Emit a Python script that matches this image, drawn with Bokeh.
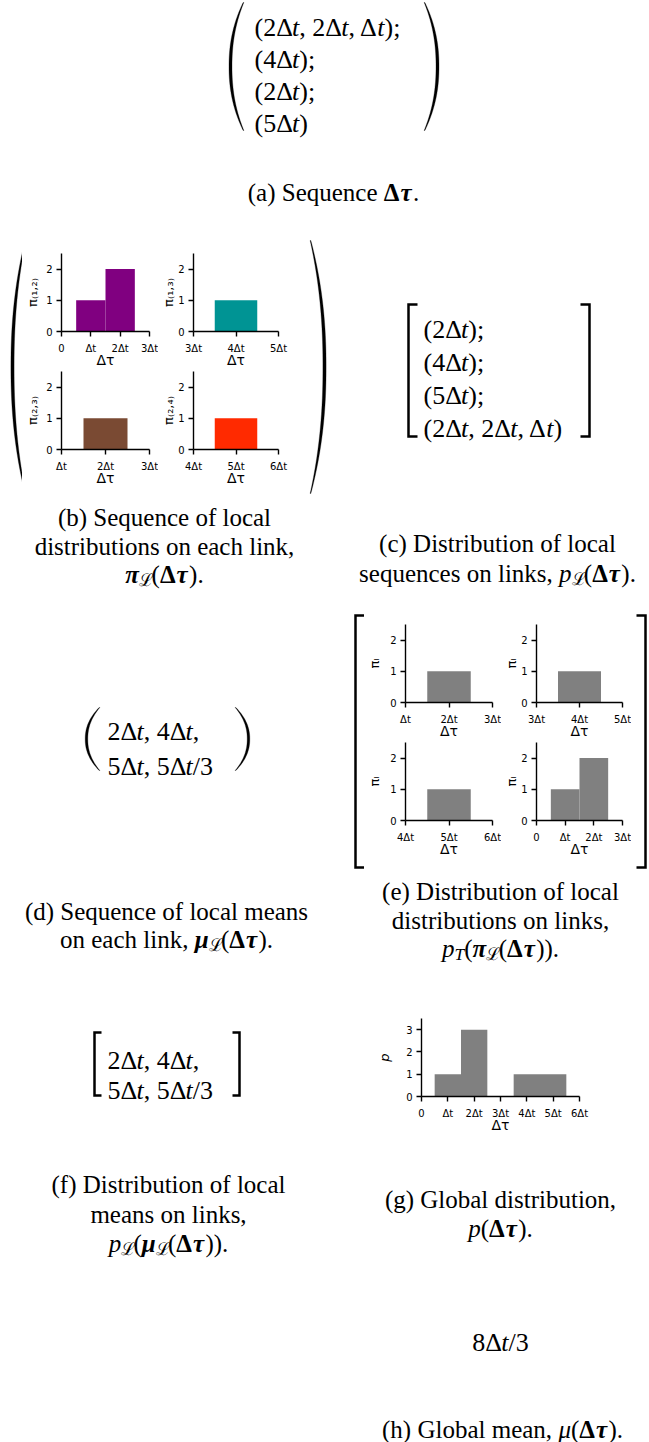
import numpy as np
from bokeh.plotting import figure
from bokeh.layouts import row, column
from bokeh.models import Range1d, FixedTicker, ColumnDataSource
from bokeh.core.properties import value, field
from bokeh.embed import file_html
from bokeh.resources import INLINE

# ---------------- data ----------------
a_rows = ["(2Δt, 2Δt, Δt);", "(4Δt);", "(2Δt);", "(5Δt)"]
c_rows = ["(2Δt);", "(4Δt);", "(5Δt);", "(2Δt, 2Δt, Δt)"]
d_rows = ["2Δt, 4Δt,", "5Δt, 5Δt/3"]
f_rows = ["2Δt, 4Δt,", "5Δt, 5Δt/3"]
h_value = "8Δt/3"

tick_pos = [0, 1, 2, 3, 4, 5, 6]
tick_text = ["0", "Δt", "2Δt", "3Δt", "4Δt", "5Δt", "6Δt"]
x_label = "Δτ"

# (b) local distribution on each link
b_ylabels = ["π₍₁,₂₎", "π₍₁,₃₎", "π₍₂,₃₎", "π₍₂,₄₎"]
b_bins = [[1, 2], [4], [2], [5]]
b_counts = [[1, 2], [1], [1], [1]]
b_xlim = [(0, 3), (3, 5), (1, 3), (4, 6)]
b_colors = ["#800080", "#009494", "#7a4a33", "#ff2a00"]
b_yticks = [0, 1, 2]
b_ymax = 2.5

# (e) distribution of local distributions
e_ylabel = "πₗ"
e_bins = [[2], [4], [5], [1, 2]]
e_counts = [[1], [1], [1], [1, 2]]
e_xlim = [(1, 3), (3, 5), (4, 6), (0, 3)]
e_color = "#808080"

# (g) global distribution
g_ylabel = "p"
g_bins = [1, 2, 4, 5]
g_counts = [1, 3, 1, 1]
g_xlim = (0, 6)
g_yticks = [0, 1, 2, 3]
g_ymax = 3.5
g_color = "#808080"

N, I, B, BI = "normal", "italic", "bold", "bold italic"
cap_a = [[("(a) Sequence ", N, 0), ("Δ", B, 0), ("τ", BI, 0), (".", N, 0)]]
cap_b = [[("(b) Sequence of local", N, 0)],
         [("distributions on each link,", N, 0)],
         [("π", BI, 0), ("ℒ", N, 1), ("(", N, 0), ("Δ", B, 0), ("τ", BI, 0), (").", N, 0)]]
cap_c = [[("(c) Distribution of local", N, 0)],
         [("sequences on links, ", N, 0), ("p", I, 0), ("ℒ", N, 1), ("(", N, 0),
          ("Δ", B, 0), ("τ", BI, 0), (").", N, 0)]]
cap_d = [[("(d) Sequence of local means", N, 0)],
         [("on each link, ", N, 0), ("μ", BI, 0), ("ℒ", N, 1), ("(", N, 0),
          ("Δ", B, 0), ("τ", BI, 0), (").", N, 0)]]
cap_e = [[("(e) Distribution of local", N, 0)],
         [("distributions on links,", N, 0)],
         [("p", I, 0), ("T", I, 1), ("(", N, 0), ("π", BI, 0), ("ℒ", N, 1), ("(", N, 0),
          ("Δ", B, 0), ("τ", BI, 0), (")).", N, 0)]]
cap_f = [[("(f) Distribution of local", N, 0)],
         [("means on links,", N, 0)],
         [("p", I, 0), ("ℒ", N, 1), ("(", N, 0), ("μ", BI, 0), ("ℒ", N, 1), ("(", N, 0),
          ("Δ", B, 0), ("τ", BI, 0), (")).", N, 0)]]
cap_g = [[("(g) Global distribution,", N, 0)],
         [("p", I, 0), ("(", N, 0), ("Δ", B, 0), ("τ", BI, 0), (").", N, 0)]]
cap_h = [[("(h) Global mean, ", N, 0), ("μ", I, 0), ("(", N, 0), ("Δ", B, 0),
          ("τ", BI, 0), (").", N, 0)]]

# ---------------- helpers ----------------
SERIF = "Liberation Serif"
SANS = "DejaVu Sans"
FS = 25      # caption size
FM = 26      # math matrix size

W_R = {" ": 250, "(": 333, ")": 333, ",": 250, ".": 250, ";": 278, "/": 278,
       "a": 444, "b": 500, "c": 444, "d": 500, "e": 444, "f": 333, "g": 500, "h": 500,
       "i": 278, "j": 278, "k": 500, "l": 278, "m": 778, "n": 500, "o": 500, "p": 500,
       "q": 500, "r": 333, "s": 389, "t": 278, "u": 500, "v": 500, "w": 722, "x": 500,
       "y": 500, "z": 444, "D": 722, "G": 722, "S": 556, "T": 611,
       "Δ": 612, "τ": 440, "μ": 500, "π": 550, "ℒ": 700}
for _d in "0123456789":
    W_R[_d] = 500
W_I = {"t": 278, "p": 500, "T": 556, "μ": 500}
W_B = {"Δ": 667, "τ": 500, "π": 560, "μ": 560}


def seg_w(txt, style, size):
    tbl = W_B if "bold" in style else (W_I if style == I else {})
    return sum(tbl.get(c, W_R.get(c, 500)) for c in txt) / 1000.0 * size


def math_segs(s):
    out, buf = [], ""
    for ch in s:
        if ch == "t":
            if buf:
                out.append((buf, N, 0))
                buf = ""
            out.append(("t", I, 0))
        else:
            buf += ch
    if buf:
        out.append((buf, N, 0))
    return out


def no_align(p):
    if "frame_align" in p.properties():
        p.frame_align = False
    return p


def text_fig(x0, y0, w, h):
    p = figure(width=w, height=h, x_range=Range1d(x0, x0 + w), y_range=Range1d(y0 + h, y0),
               x_axis_type=None, y_axis_type=None, output_backend="svg",
               toolbar_location=None, min_border=0)
    p.outline_line_color = None
    return no_align(p)


def draw_lines(p, items):
    src = {"x": [], "y": [], "text": [], "style": [], "size": []}
    for segs, x, y, align, size in items:
        ws = [seg_w(t, st, size * (0.7 if sub else 1.0)) for t, st, sub in segs]
        cx = x - sum(ws) / 2.0 if align == "center" else x
        for (t, st, sub), w in zip(segs, ws):
            sz = size * (0.7 if sub else 1.0)
            src["x"].append(cx)
            src["y"].append(y + (0.2 * size if sub else 0.0))
            src["text"].append(t)
            src["style"].append(st)
            src["size"].append("%.1fpx" % sz)
            cx += w
    p.text(x="x", y="y", text="text", source=ColumnDataSource(src),
           text_font=value(SERIF), text_font_style=field("style"),
           text_font_size=field("size"), text_align="left",
           text_baseline="alphabetic", text_color="black")


def caption(lines, cx, y_first, dy):
    return [(segs, cx, y_first + i * dy, "center", FS) for i, segs in enumerate(lines)]


def matrix(rows_, x, y_first, dy):
    return [(math_segs(r), x, y_first + i * dy, "left", FM) for i, r in enumerate(rows_)]


def big_paren(p, xl, xr, yt, yb, side, tmax=3.0):
    u = np.linspace(-1, 1, 81)
    bulge = 1 - np.abs(u) ** 2.2
    xc = xr - (xr - xl) * bulge if side == "left" else xl + (xr - xl) * bulge
    th = 0.7 + (tmax - 0.7) * bulge
    y = (yt + yb) / 2.0 + u * (yb - yt) / 2.0
    xs = np.concatenate([xc - th / 2, (xc + th / 2)[::-1]])
    ys = np.concatenate([y, y[::-1]])
    p.patch(xs, ys, fill_color="black", line_color="black", line_width=0.3)


def bracket(p, x, yt, yb, side, serif=9, lw=2.5):
    d = serif if side == "left" else -serif
    p.line([x + d, x, x, x + d], [yt, yt, yb, yb], line_color="black",
           line_width=lw, line_join="miter")


def hist(bins, counts, xlim, ymax, yticks, color, ylabel, w, h, bl, br, bt, bb,
         ylab_standoff=1, ylabel_style=N):
    p = figure(width=w, height=h, x_range=Range1d(*xlim), y_range=Range1d(0, ymax),
               output_backend="svg", toolbar_location=None,
               min_border_left=bl, min_border_right=br, min_border_top=bt,
               min_border_bottom=bb)
    no_align(p)
    p.outline_line_color = None
    p.xgrid.visible = False
    p.ygrid.visible = False
    p.vbar(x=bins, width=1.0, bottom=0, top=counts, fill_color=color, line_color=None)
    xt = [t for t in tick_pos if xlim[0] <= t <= xlim[1]]
    xa, ya = p.xaxis[0], p.yaxis[0]
    xa.ticker = FixedTicker(ticks=xt, minor_ticks=[])
    xa.major_label_overrides = {t: tick_text[tick_pos.index(t)] for t in xt}
    ya.ticker = FixedTicker(ticks=yticks, minor_ticks=[])
    xa.axis_label = x_label
    ya.axis_label = ylabel
    for ax in (xa, ya):
        ax.axis_line_color = "black"
        ax.axis_line_width = 1.4
        ax.major_tick_line_color = "black"
        ax.major_tick_line_width = 1.4
        ax.major_tick_out = 5
        ax.major_tick_in = 0
        ax.minor_tick_line_color = None
        ax.major_label_text_font = SANS
        ax.major_label_text_font_size = "10px"
        ax.major_label_text_color = "black"
        ax.axis_label_text_font = SANS
        ax.axis_label_text_color = "black"
        ax.axis_label_text_font_style = N
    xa.axis_label_text_font_size = "14px"
    ya.axis_label_text_font_size = "13px"
    xa.major_label_standoff = 6
    xa.axis_label_standoff = -5
    ya.major_label_standoff = 4
    ya.axis_label_standoff = ylab_standoff
    ya.axis_label_text_font_style = ylabel_style
    return p


# ---------------- (a) ----------------
figA = text_fig(0, 0, 649, 235)
big_paren(figA, 230, 243, 2, 130, "left", 3.0)
big_paren(figA, 424, 437, 2, 130, "right", 3.0)
draw_lines(figA, matrix(a_rows, 254, 27, 32) + caption(cap_a, 333, 192, 29))

# ---------------- (b) ----------------
TLb = hist(b_bins[0], b_counts[0], b_xlim[0], b_ymax, b_yticks, b_colors[0], b_ylabels[0],
           136, 136, 39, 9, 18, 40, ylab_standoff=3)
TRb = hist(b_bins[1], b_counts[1], b_xlim[1], b_ymax, b_yticks, b_colors[1], b_ylabels[1],
           142, 136, 32, 22, 18, 40, ylab_standoff=-1)
BLb = hist(b_bins[2], b_counts[2], b_xlim[2], b_ymax, b_yticks, b_colors[2], b_ylabels[2],
           136, 124, 39, 9, 0, 46, ylab_standoff=3)
BRb = hist(b_bins[3], b_counts[3], b_xlim[3], b_ymax, b_yticks, b_colors[3], b_ylabels[3],
           142, 124, 32, 22, 0, 46, ylab_standoff=-1)
parenBL = text_fig(0, 235, 22, 260)
big_paren(parenBL, 12, 25, 240, 493, "left", 3.2)
parenBR = text_fig(300, 235, 38, 260)
big_paren(parenBR, 310, 324, 240, 493, "right", 3.2)
capB = text_fig(0, 495, 338, 95)
draw_lines(capB, caption(cap_b, 164, 517, 28.5))

# ---------------- (c) ----------------
figC = text_fig(338, 235, 311, 355)
bracket(figC, 408, 304, 436, "left")
bracket(figC, 589, 304, 436, "right")
draw_lines(figC, matrix(c_rows, 423, 329, 33) + caption(cap_c, 497, 543, 30))

# ---------------- (d) ----------------
figD = text_fig(0, 590, 338, 376)
big_paren(figD, 86, 99, 707, 770, "left", 2.6)
big_paren(figD, 235, 248, 707, 770, "right", 2.6)
draw_lines(figD, matrix(d_rows, 107, 731, 35) + caption(cap_d, 166, 911, 28))

# ---------------- (e) ----------------
TLe = hist(e_bins[0], e_counts[0], e_xlim[0], b_ymax, b_yticks, e_color, e_ylabel,
           137, 152, 40, 9, 34, 40, ylab_standoff=5)
TRe = hist(e_bins[1], e_counts[1], e_xlim[1], b_ymax, b_yticks, e_color, e_ylabel,
           130, 152, 33, 9, 34, 40, ylab_standoff=-1)
BLe = hist(e_bins[2], e_counts[2], e_xlim[2], b_ymax, b_yticks, e_color, e_ylabel,
           137, 128, 40, 9, 0, 50, ylab_standoff=5)
BRe = hist(e_bins[3], e_counts[3], e_xlim[3], b_ymax, b_yticks, e_color, e_ylabel,
           130, 128, 33, 9, 0, 50, ylab_standoff=-1)
brEL = text_fig(338, 590, 26, 280)
bracket(brEL, 355, 615, 867, "left")
brER = text_fig(631, 590, 18, 280)
bracket(brER, 645, 615, 867, "right")
capE = text_fig(338, 870, 311, 96)
draw_lines(capE, caption(cap_e, 500, 891, 28.5))

# ---------------- (f) ----------------
figF = text_fig(0, 966, 338, 294)
bracket(figF, 94, 1032, 1095, "left", serif=7)
bracket(figF, 239, 1032, 1095, "right", serif=7)
draw_lines(figF, matrix(f_rows, 107, 1060, 30) + caption(cap_f, 168, 1184, 29.5))

# ---------------- (g) ----------------
figG = hist(g_bins, g_counts, g_xlim, g_ymax, g_yticks, g_color, g_ylabel,
            311, 174, 83, 70, 52, 44, ylab_standoff=11, ylabel_style=I)
capG = text_fig(338, 1140, 311, 120)
draw_lines(capG, caption(cap_g, 500, 1199, 29))

# ---------------- (h) ----------------
figH = text_fig(0, 1260, 649, 182)
draw_lines(figH, [(math_segs(h_value), 500, 1342, "center", FM)] + caption(cap_h, 502, 1429, 29))

# ---------------- layout ----------------
left_b = column(row(parenBL, column(row(TLb, TRb), row(BLb, BRb)), parenBR), capB)
band_b = row(left_b, figC)
right_e = column(row(brEL, column(row(TLe, TRe), row(BLe, BRe)), brER), capE)
band_c = row(figD, right_e)
band_d = row(figF, column(figG, capG))
root = column(figA, band_b, band_c, band_d, figH)

open("out.html", "w").write(file_html(root, INLINE, title="figure"))
